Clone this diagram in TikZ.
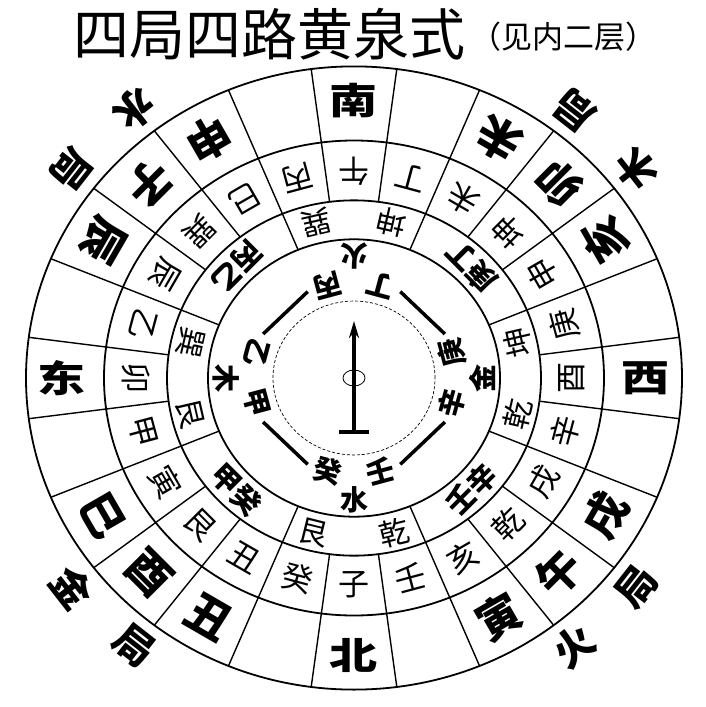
\documentclass[tikz,border=0pt]{standalone}
\usepackage{fontspec}
\usepackage{graphicx}
\usetikzlibrary{arrows.meta}
\newfontfamily\cjk{Noto Sans CJK SC}
\newcommand\kuan[1]{\scalebox{1.3}[1]{#1}}
\begin{document}
\begin{tikzpicture}[x=1pt,y=1pt,
    ring/.style={line width=1.8pt},
    cell/.style={line width=1.4pt},
    title/.style={font=\cjk\fontsize{56}{56}\selectfont,inner sep=0pt},
    note/.style={font=\cjk\fontsize{31}{31}\selectfont,inner sep=0pt},
    fang/.style={font=\cjk\bfseries\fontsize{37}{37}\selectfont,inner sep=0pt},
    sanhe/.style={font=\cjk\bfseries\fontsize{44}{44}\selectfont,inner sep=0pt},
    shan/.style={font=\cjk\fontsize{31}{31}\selectfont,inner sep=0pt},
    gua/.style={font=\cjk\fontsize{30}{30}\selectfont,inner sep=0pt},
    lu/.style={font=\cjk\bfseries\fontsize{29}{29}\selectfont,inner sep=0pt},
    gan/.style={font=\cjk\bfseries\fontsize{28}{28}\selectfont,inner sep=0pt},
    ju/.style={font=\cjk\bfseries\fontsize{40}{40}\selectfont,inner sep=0pt},
    bar/.style={line width=3.5pt},
    needle/.style={line width=3.5pt,-{Stealth[length=17pt,width=10pt]}}]
\useasboundingbox (0,0) rectangle (705,-707);
\node[title] (title) at (269,-34) {四局四路黄泉式};
\node[note] (note) at (563,-37) {（见内二层）};
\begin{scope}[shift={(354,-378)},yscale=0.95]
    \draw[ring] (0,0) circle (328) (0,0) circle (250) (0,0) circle (187) (0,0) circle (146);
    \draw[line width=0.7pt,densely dashed] (0,0) circle (81);
    \foreach \a in {0,...,23}
        \draw[cell] (\a*15+7.5:187) -- (\a*15+7.5:328);
    \foreach \a in {0,...,7}
        \draw[cell] (\a*45+22.5:146) -- (\a*45+22.5:187);
    % outer ring
    \foreach \c/\a in {西/0,南/90,东/180,北/270}
        \node[fang] (fang\a) at (\a:292) {\kuan{\c}};
    \foreach \c/\a in {亥/30,卯/45,未/60,申/120,子/135,辰/150,巳/210,酉/225,丑/240,寅/300,午/315,戌/330}
        \node[sanhe,rotate=\a+90] (sanhe\a) at (\a:290) {\c};
    % 24 mountains
    \foreach \c [count=\i from 0] in {酉,庚,申,坤,未,丁,午,丙,巳,巽,辰,乙,卯,甲,寅,艮,丑,癸,子,壬,亥,乾,戌,辛}
        \node[shan,rotate=\i*15+90] (shan\i) at (\i*15:218) {\c};
    % huangquan ring
    \foreach \c/\a in {坤/13,坤/77,巽/103,巽/167,艮/193,艮/256,乾/284,乾/347}
        \node[gua,rotate=\a+90] (gua\a) at (\a:168) {\c};
    \foreach \c/\a in {庚丁/45,丙乙/135,甲癸/225,壬辛/315}
        \node[lu,rotate=\a+90] (lu\a) at (\a:166) {\c};
    % inner
    \foreach \c/\a in {庚/15,丁/75,丙/105,乙/165,甲/195,癸/255,壬/285,辛/345}
        \node[gan,rotate=\a+90] (gan\a) at (\a:101) {\c};
    \foreach \c/\a in {金/0,火/90,木/180,水/270}
        \node[gan,rotate=\a+90] (xing\a) at (\a:128) {\c};
    \foreach \a in {45,135,225,315}
        \draw[bar] (\a-18:102) -- (\a+18:102);
    \coordinate (tail) at (0,-57);
    \coordinate (tip) at (0,60);
    \draw[needle] (tail) -- (tip);
    \draw[bar] (-15,-57) -- (15,-57);
    \draw[line width=0.8pt] (0,0) ellipse (11 and 8.4);
    % ju
    \foreach \c/\a in {木/38,局/52,水/128,局/142,金/218,局/232,火/308,局/322}
        \node[ju,rotate=\a+90] (ju\a) at (\a:358) {\c};
\end{scope}
\end{tikzpicture}
\end{document}
